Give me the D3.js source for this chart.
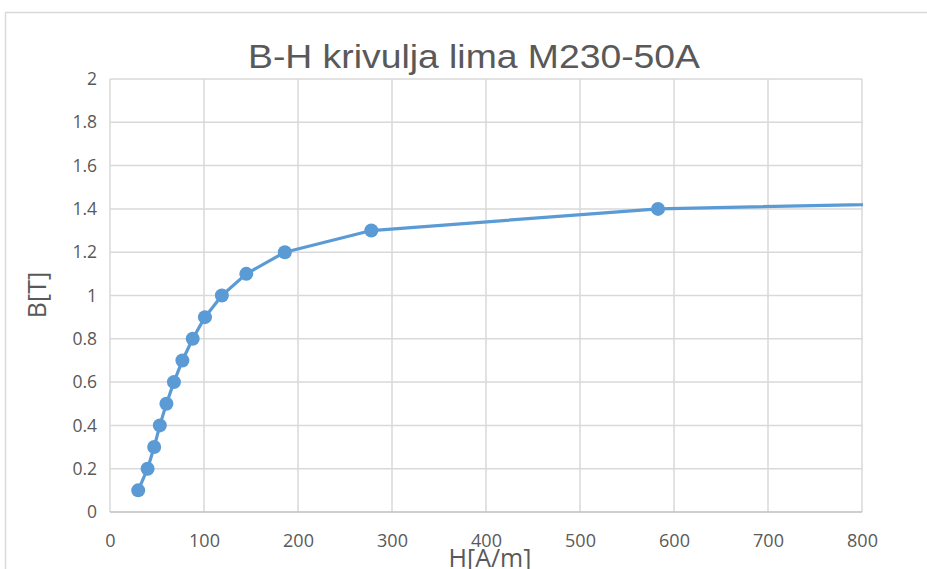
<!DOCTYPE html>
<html><head><meta charset="utf-8">
<script src="https://cdn.jsdelivr.net/npm/d3@7"></script>
<style>body{margin:0;background:#fff;}svg{display:block;}</style>
</head><body>
<script>
const H = [30, 40, 47, 53, 60, 68, 77, 88, 101, 119, 145, 186, 278, 583, 1680];
const B = [0.1, 0.2, 0.3, 0.4, 0.5, 0.6, 0.7, 0.8, 0.9, 1.0, 1.1, 1.2, 1.3, 1.4, 1.5];
const xTicks = [0, 100, 200, 300, 400, 500, 600, 700, 800];
const yTicks = [0, 0.2, 0.4, 0.6, 0.8, 1, 1.2, 1.4, 1.6, 1.8, 2];
const title = "B-H krivulja lima M230-50A";
const xTitle = "H[A/m]";
const yTitle = "B[T]";

const W = 927, HH = 569;
const svg = d3.select("body").append("svg").attr("width", W).attr("height", HH);
svg.append("rect").attr("x", 5.5).attr("y", 12.5).attr("width", 940).attr("height", 600)
  .attr("fill", "#fff").attr("stroke", "#d9d9d9").attr("stroke-width", 1.5);

const x = d3.scaleLinear().domain([0, 800]).range([110, 862]);
const y = d3.scaleLinear().domain([0, 2]).range([512, 79]);

const font = "'Open Sans', Lato, sans-serif";
// grid
svg.append("g").selectAll("line").data(yTicks.slice(1)).join("line")
  .attr("x1", x(0)).attr("x2", x(800)).attr("y1", d => y(d)).attr("y2", d => y(d))
  .attr("stroke", "#d9d9d9").attr("stroke-width", 1.5);
svg.append("g").selectAll("line").data(xTicks).join("line")
  .attr("x1", d => x(d)).attr("x2", d => x(d)).attr("y1", y(0)).attr("y2", y(2))
  .attr("stroke", "#d9d9d9").attr("stroke-width", 1.5);
svg.append("line").attr("x1", x(0)).attr("x2", x(800)).attr("y1", y(0)).attr("y2", y(0))
  .attr("stroke", "#bfbfbf").attr("stroke-width", 1.5);

// axes labels
const yAxis = d3.axisLeft(y).tickValues(yTicks).tickSize(0).tickPadding(13).tickFormat(d3.format("~g"));
const gy = svg.append("g").attr("transform", `translate(${x(0)},0)`).call(yAxis);
gy.select(".domain").remove();
gy.selectAll("text").attr("font-family", font).attr("font-size", 17.5).attr("fill", "#595959");

const xAxis = d3.axisBottom(x).tickValues(xTicks).tickSize(0).tickPadding(22).tickFormat(d3.format("d"));
const gx = svg.append("g").attr("transform", `translate(0,${y(0)})`).call(xAxis);
gx.select(".domain").remove();
gx.selectAll("text").attr("font-family", font).attr("font-size", 18).attr("fill", "#595959");

// line clipped to plot
svg.append("clipPath").attr("id", "clip").append("rect")
  .attr("x", x(0) - 10).attr("y", y(2) - 10).attr("width", x(800) - x(0) + 11).attr("height", y(0) - y(2) + 20);
const pts = H.map((h, i) => [h, B[i]]);
const g = svg.append("g").attr("clip-path", "url(#clip)");
g.append("path").datum(pts).attr("fill", "none").attr("stroke", "#5b9bd5").attr("stroke-width", 3.2)
  .attr("stroke-linejoin", "round")
  .attr("d", d3.line().x(d => x(d[0])).y(d => y(d[1])));
g.selectAll("circle").data(pts.filter(d => d[0] <= 800)).join("circle")
  .attr("cx", d => x(d[0])).attr("cy", d => y(d[1])).attr("r", 7).attr("fill", "#5b9bd5");

// titles
svg.append("text").attr("x", 474).attr("y", 68).attr("text-anchor", "middle")
  .attr("font-family", "'Liberation Sans Narrow', 'Liberation Sans', Arial, sans-serif").attr("font-size", 33)
  .attr("fill", "#595959").attr("textLength", 452).attr("lengthAdjust", "spacingAndGlyphs").text(title);
svg.append("text").attr("x", 490).attr("y", 567).attr("text-anchor", "middle")
  .attr("font-family", font).attr("font-size", 25).attr("fill", "#595959").text(xTitle);
svg.append("text").attr("transform", "translate(46,295) rotate(-90)").attr("text-anchor", "middle")
  .attr("font-family", font).attr("font-size", 25).attr("fill", "#595959").text(yTitle);
</script>
</body></html>
